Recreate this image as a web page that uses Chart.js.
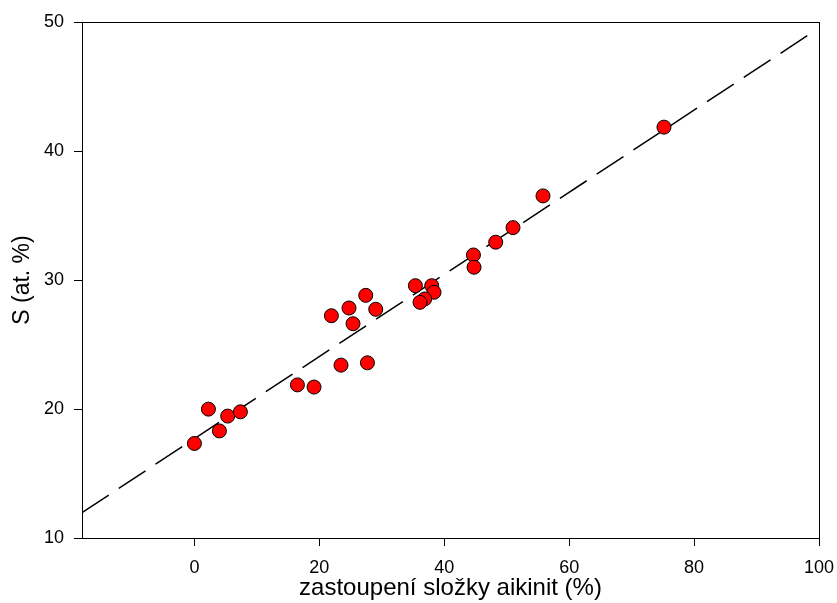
<!DOCTYPE html>
<html>
<head>
<meta charset="utf-8">
<script src="https://cdn.jsdelivr.net/npm/chart.js@4"></script>
<style>
  html, body { margin: 0; padding: 0; background: #fff; }
  #wrap { width: 837px; height: 603px; }
</style>
</head>
<body>
<div id="wrap"><canvas id="chart" width="837" height="603"></canvas></div>
<script>
// aikinit share (%) vs. S content (at. %)
const aikinit = [0, 2.24, 4.0, 5.33, 7.36, 16.49, 19.15, 21.93, 23.47, 24.75, 25.39, 27.43, 27.70, 29.03,
                 35.38, 37.99, 38.36, 36.87, 36.12, 44.67, 44.77, 48.24, 51.01, 55.81, 75.18];
const sulfur = [17.33, 19.99, 18.30, 19.45, 19.78, 21.87, 21.70, 27.23, 23.40, 27.83, 26.61, 28.81, 23.58, 27.73,
                29.56, 29.56, 29.05, 28.53, 28.27, 31.94, 30.99, 32.93, 34.06, 36.52, 41.85];

// regression line endpoints
const fitX = [-18, 98.35];
const fitY = [11.97, 49.01];

const xTicks = [0, 20, 40, 60, 80, 100];
const yTicks = [10, 20, 30, 40, 50];

const font = 'Liberation Sans, Arial, sans-serif';

const frame = {
  id: 'frame',
  afterDatasetsDraw(chart) {
    const { ctx, chartArea: a } = chart;
    ctx.save();
    ctx.strokeStyle = '#000';
    ctx.lineWidth = 1;
    ctx.strokeRect(a.left + 0.5, a.top + 0.5, a.right - a.left, a.bottom - a.top);
    ctx.restore();
  }
};

new Chart(document.getElementById('chart'), {
  type: 'scatter',
  data: {
    datasets: [
      {
        type: 'line',
        data: fitX.map((x, i) => ({ x, y: fitY[i] })),
        borderColor: '#000',
        borderWidth: 1.5,
        borderDash: [32, 12],
        pointRadius: 0,
        fill: false,
        order: 2,
      },
      {
        data: aikinit.map((x, i) => ({ x, y: sulfur[i] })),
        backgroundColor: '#ff0000',
        borderColor: '#000',
        borderWidth: 1,
        pointRadius: 7,
        order: 1,
      },
    ],
  },
  options: {
    responsive: false,
    animation: false,
    layout: { padding: { left: 0, top: 22, right: 18, bottom: 0 } },
    plugins: { legend: { display: false }, tooltip: { enabled: false } },
    scales: {
      x: {
        type: 'linear',
        min: -18,
        max: 100,
        afterBuildTicks: (s) => { s.ticks = xTicks.map(v => ({ value: v })); },
        afterFit: (s) => {
          s.height = 65;
          s.paddingLeft = 0;
          s.paddingRight = 0;
        },
        grid: { display: true, drawOnChartArea: false, tickLength: 8, color: '#000' },
        border: { display: true, color: '#000', width: 1 },
        ticks: { color: '#000', font: { family: font, size: 18 }, padding: 11, maxRotation: 0 },
        title: {
          display: true,
          text: 'zastoupení složky aikinit (%)',
          color: '#000',
          font: { family: font, size: 24 },
          padding: { top: 0, bottom: 0 },
        },
      },
      y: {
        type: 'linear',
        min: 10,
        max: 50,
        afterBuildTicks: (s) => { s.ticks = yTicks.map(v => ({ value: v })); },
        afterFit: (s) => {
          s.width = 82;
          s.paddingTop = 0;
          s.paddingBottom = 0;
        },
        grid: { display: true, drawOnChartArea: false, tickLength: 8, color: '#000' },
        border: { display: true, color: '#000', width: 1 },
        ticks: { color: '#000', font: { family: font, size: 18 }, padding: 10 },
        title: {
          display: true,
          text: 'S (at. %)',
          color: '#000',
          font: { family: font, size: 23 },
          padding: { top: 9, bottom: 0 },
        },
      },
    },
  },
  plugins: [frame],
});
</script>
</body>
</html>
